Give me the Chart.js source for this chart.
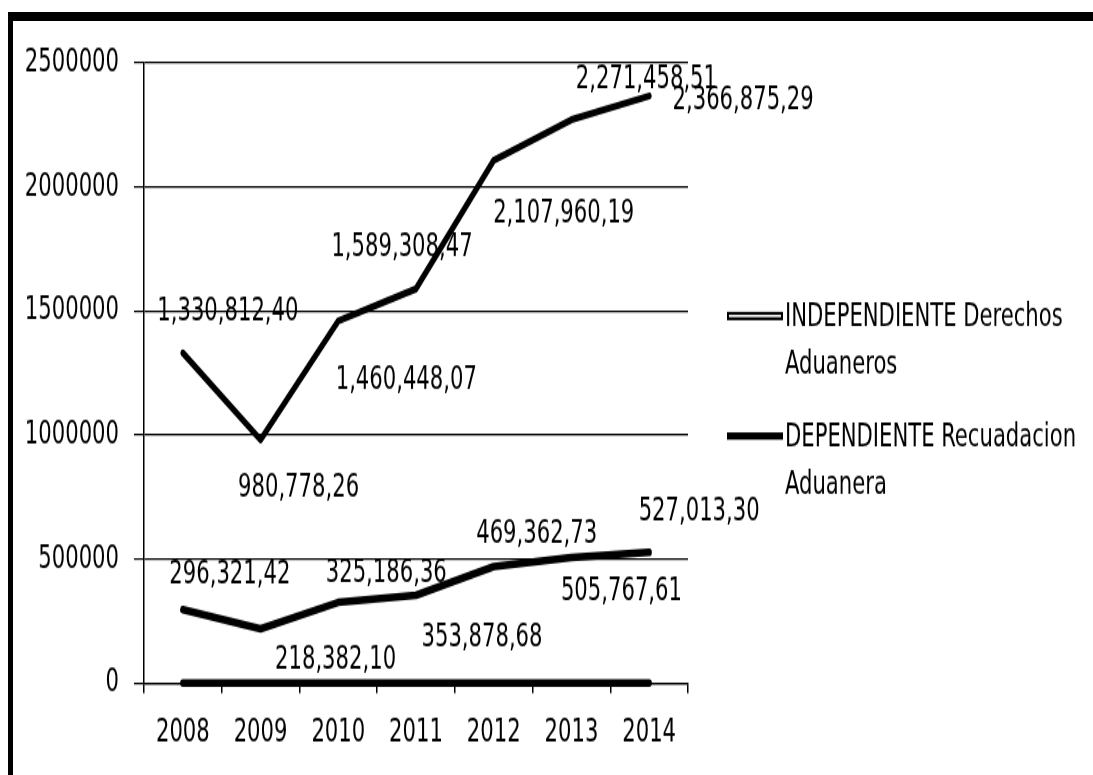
<!DOCTYPE html>
<html>
<head>
<meta charset="utf-8">
<title>Recaudacion Aduanera 2008-2014</title>
<script src="https://cdn.jsdelivr.net/npm/chart.js@4/dist/chart.umd.min.js"></script>
<style>
  html, body { margin: 0; padding: 0; background: #fff; }
  #wrap { position: relative; width: 1093px; height: 775px; overflow: hidden; }
  #frame {
    position: absolute; left: 8px; top: 12px; right: -20px; bottom: -20px;
    border-top: 9px solid #000; border-left: 5px solid #000;
    pointer-events: none;
  }
  /* el grafico se dibuja mas bajo y se estira en vertical: letra alta y estrecha */
  #stretch {
    position: absolute; left: 0; top: 0; width: 1093px; height: 554px;
    transform: scaleY(1.39892); transform-origin: 0 0;
  }
</style>
</head>
<body>
<div id="wrap">
  <div id="stretch"><canvas id="chart" width="1093" height="554"></canvas></div>
  <div id="frame"></div>
</div>
<script>
const years = ['2008', '2009', '2010', '2011', '2012', '2013', '2014'];
const yTicks = [0, 500000, 1000000, 1500000, 2000000, 2500000];

// Derechos aduaneros (variable independiente)
const derechos = [296321.42, 218382.10, 325186.36, 353878.68, 469362.73, 505767.61, 527013.30];
// Recaudacion aduanera (variable dependiente)
const recaudacion = [1330812.40, 980778.26, 1460448.07, 1589308.47, 2107960.19, 2271458.51, 2366875.29];
// serie que queda pegada al eje
const base = [0, 0, 0, 0, 0, 0, 0];

const names = [
  ['INDEPENDIENTE Derechos', 'Aduaneros'],
  ['DEPENDIENTE Recuadacion', 'Aduanera']
];

// estiramiento vertical del lienzo
const SY = 775 / 554;

// desplazamiento de cada etiqueta respecto a su punto (px en pantalla)
const offDerechos = [[47, -35], [75, 31], [48, -29], [66, 42], [43, -32], [50, 34], [50, -40]];
const offRecaudacion = [[45, -41], [38, 48], [68, 59], [-14, -42], [70, 53], [75, -40], [94, 4]];

const FONT = "'DejaVu Sans Condensed', 'DejaVu Sans', sans-serif";
const FSIZE = 23.5;
const INK = '#000';

function fmt(v) {
  const parts = v.toFixed(2).split('.');
  return parts[0].replace(/\B(?=(\d{3})+(?!\d))/g, ',') + ',' + parts[1];
}

const valueLabels = {
  id: 'valueLabels',
  afterDatasetsDraw(chart) {
    const ctx = chart.ctx;
    ctx.save();
    ctx.font = FSIZE + 'px ' + FONT;
    ctx.fillStyle = INK;
    ctx.textAlign = 'center';
    ctx.textBaseline = 'middle';
    chart.data.datasets.forEach((ds, i) => {
      if (!ds.offsets) return;
      chart.getDatasetMeta(i).data.forEach((pt, j) => {
        const o = ds.offsets[j];
        ctx.fillText(fmt(ds.data[j]), pt.x + o[0], pt.y + o[1] / SY);
      });
    });
    ctx.restore();
  }
};

const sideLegend = {
  id: 'sideLegend',
  afterDraw(chart) {
    const ctx = chart.ctx;
    const x0 = chart.chartArea.right + 39;
    const rows = [316 / SY, 436 / SY];
    ctx.save();
    ctx.font = FSIZE + 'px ' + FONT;
    ctx.textBaseline = 'middle';
    names.forEach((lines, i) => {
      const y = rows[i];
      ctx.fillStyle = '#000';
      if (i === 0) {
        ctx.fillRect(x0, y - 3, 56, 6);
        ctx.fillStyle = '#fff';
        ctx.fillRect(x0 + 2, y - 0.8, 52, 1.6);
      } else {
        ctx.fillRect(x0, y - 2.6, 56, 5.2);
      }
      ctx.fillStyle = INK;
      lines.forEach((t, k) => ctx.fillText(t, x0 + 58, y + (2 + k * 47) / SY));
    });
    ctx.restore();
  }
};

new Chart(document.getElementById('chart'), {
  type: 'line',
  data: {
    labels: years,
    datasets: [
      {
        label: names[0].join(' '),
        data: derechos,
        offsets: offDerechos,
        borderColor: '#000',
        borderWidth: 5.5,
        borderCapStyle: 'round',
        borderJoinStyle: 'round',
        pointRadius: 0,
        tension: 0
      },
      {
        label: names[1].join(' '),
        data: recaudacion,
        offsets: offRecaudacion,
        borderColor: '#000',
        borderWidth: 5,
        borderCapStyle: 'round',
        borderJoinStyle: 'round',
        pointRadius: 0,
        tension: 0
      },
      {
        label: 'base',
        data: base,
        clip: 10,
        borderColor: '#000',
        borderWidth: 5.5,
        borderCapStyle: 'round',
        pointRadius: 0
      }
    ]
  },
  options: {
    responsive: false,
    animation: false,
    layout: { padding: { top: 63 / SY, right: 405, left: 0, bottom: 0 } },
    plugins: {
      legend: { display: false },
      tooltip: { enabled: false }
    },
    scales: {
      x: {
        offset: true,
        grid: {
          offset: true,
          drawOnChartArea: false,
          drawTicks: true,
          tickLength: 10 / SY,
          color: '#000',
          lineWidth: 1.5
        },
        border: { color: '#000', width: 1.2 },
        ticks: {
          color: INK,
          padding: 14.5,
          maxRotation: 0,
          font: { family: FONT, size: FSIZE }
        },
        afterFit(s) { s.height = 92 / SY; }
      },
      y: {
        min: 0,
        max: 2500000,
        afterBuildTicks(s) { s.ticks = yTicks.map(v => ({ value: v })); },
        grid: {
          color: '#000',
          lineWidth: 1.2,
          tickLength: 10
        },
        border: { color: '#000', width: 1.5 },
        ticks: {
          color: INK,
          padding: 15,
          font: { family: FONT, size: FSIZE },
          callback: v => String(v)
        },
        afterFit(s) { s.width = 144; }
      }
    }
  },
  plugins: [valueLabels, sideLegend]
});
</script>
</body>
</html>
